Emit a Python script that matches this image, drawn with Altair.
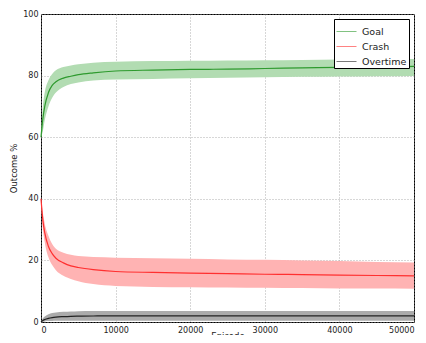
import altair as alt
import pandas as pd

episodes = [0, 250, 500, 1000, 1500, 2000, 3000, 4000, 5000, 7000, 10000,
            15000, 20000, 25000, 30000, 35000, 40000, 45000, 50000]

goal_mean = [60, 66, 70, 74.5, 76.8, 78, 79.2, 79.8, 80.3, 80.9, 81.5,
             81.8, 82.0, 82.1, 82.3, 82.5, 82.7, 82.8, 83.0]
goal_upper = [60, 70, 74.5, 78.5, 80.5, 81.7, 82.8, 83.3, 83.7, 84.2, 84.5,
              84.7, 84.8, 84.9, 85.0, 85.1, 85.2, 85.3, 85.4]
goal_lower = [60, 62, 65.5, 70, 72.8, 74.5, 76.3, 77.3, 77.8, 78.4, 78.7,
              78.9, 79.1, 79.3, 79.5, 79.6, 79.7, 79.8, 79.9]

crash_mean = [40, 33, 29, 24.5, 22.2, 20.7, 19.2, 18.2, 17.7, 17.0, 16.4,
              16.1, 15.9, 15.7, 15.5, 15.4, 15.2, 15.1, 15.0]
crash_upper = [40, 35.5, 32, 28, 25.3, 23.8, 22.5, 21.8, 21.4, 21.1, 20.9,
               20.7, 20.5, 20.3, 20.2, 20.0, 19.8, 19.5, 19.3]
crash_lower = [40, 30.5, 26, 21, 18.5, 16.8, 15, 14, 13.2, 12.3, 11.7,
               11.4, 11.3, 11.2, 11.1, 11.0, 10.9, 10.85, 10.8]

over_mean = [0, 0.5, 0.8, 1.2, 1.45, 1.6, 1.75, 1.85, 1.9, 1.95, 2.0,
             2.0, 2.0, 2.0, 2.0, 2.0, 2.0, 2.0, 2.0]
over_upper = [0, 1.2, 1.8, 2.5, 2.9, 3.1, 3.3, 3.4, 3.5, 3.55, 3.6,
              3.6, 3.6, 3.6, 3.6, 3.6, 3.6, 3.6, 3.6]
over_lower = [0, 0.1, 0.2, 0.3, 0.35, 0.4, 0.4, 0.4, 0.4, 0.4, 0.4,
              0.4, 0.4, 0.4, 0.4, 0.4, 0.4, 0.4, 0.4]

series = ["Goal", "Crash", "Overtime"]
line_colors = ["#2e9a2e", "#ff3030", "#222222"]
band_colors = ["#b2dcb2", "#ffb3b3", "#ababab"]

rows = []
for name, m, u, l in [("Goal", goal_mean, goal_upper, goal_lower),
                      ("Crash", crash_mean, crash_upper, crash_lower),
                      ("Overtime", over_mean, over_upper, over_lower)]:
    for e, a, b, c in zip(episodes, m, u, l):
        rows.append({"Episode": e, "Outcome": a, "upper": b, "lower": c,
                     "series": name})
df = pd.DataFrame(rows)

x = alt.X("Episode:Q", scale=alt.Scale(domain=[0, 50000], nice=False),
          axis=alt.Axis(values=[0, 10000, 20000, 30000, 40000, 50000], format="d",
                        title="Episode", titleY=9))
y = alt.Y("Outcome:Q", scale=alt.Scale(domain=[0, 100], nice=False),
          axis=alt.Axis(values=[0, 20, 40, 60, 80, 100], title="Outcome %"))

bands = [
    alt.Chart(df).transform_filter(alt.datum.series == name)
    .mark_area(interpolate="monotone", opacity=1, color=col)
    .encode(x=x, y=alt.Y("lower:Q"), y2="upper:Q")
    for name, col in zip(series, band_colors)
]

line = alt.Chart(df).mark_line(interpolate="monotone", strokeWidth=1.2).encode(
    x=x, y=y,
    color=alt.Color("series:N", scale=alt.Scale(domain=series, range=line_colors),
                    sort=series,
                    legend=alt.Legend(title=None, orient="top-right", offset=5,
                                      symbolType="stroke", symbolSize=400,
                                      symbolStrokeWidth=1, symbolOpacity=0.6,
                                      labelFontSize=9.5, labelFont="DejaVu Sans",
                                      labelColor="#222222", labelOffset=5,
                                      strokeColor="#000000", fillColor="white",
                                      padding=2, rowPadding=-7.5)),
)

chart = alt.layer(*bands, line).properties(
    width=373, height=308,
    autosize=alt.AutoSizeParams(type="none"),
    padding={"left": 33, "top": 6, "right": 4, "bottom": 13},
).configure_view(stroke="#000000", strokeWidth=1).configure_axis(
    grid=True, gridColor="#999999", gridDash=[1, 2], gridWidth=0.8,
    domain=False, ticks=False,
    labelFont="DejaVu Sans", labelFontSize=8, labelColor="#222222",
    titleFont="DejaVu Sans", titleFontSize=8.5, titleFontWeight="normal",
    titleColor="#222222", labelPadding=4,
).configure_axisY(titlePadding=4, labelPadding=3)

chart.save("out.html", embed_options={"renderer": "svg", "actions": False})
